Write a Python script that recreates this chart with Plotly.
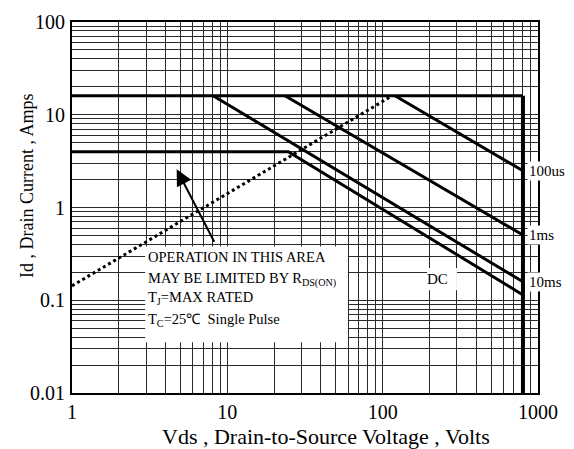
import math
import plotly.graph_objects as go

# ---- data ----
idmax_v = [1, 800]
idmax_i = [16, 16]
vdss_v = [800, 800]
vdss_i = [16, 0.01]
dc_v = [1, 24.7, 800]
dc_i = [4, 4, 0.114]
ms10_v = [8.1, 800]
ms10_i = [16, 0.158]
ms1_v = [23.5, 800]
ms1_i = [16, 0.505]
us100_v = [120, 800]
us100_i = [16, 2.49]
rds_v = [1, 115]
rds_i = [0.143, 16]

x_ticks = [1, 10, 100, 1000]
x_ticktext = ["1", "10", "100", "1000"]
y_ticks = [0.01, 0.1, 1, 10, 100]
y_ticktext = ["0.01", "0.1", "1", "10", "100"]

curve_labels = ["100us", "1ms", "10ms"]
curve_label_i = [2.49, 0.505, 0.158]

FONT = "Liberation Serif, Times New Roman, serif"

def minors(decades):
    out = []
    for d in decades:
        for k in range(2, 10):
            out.append(k * d)
    return out

fig = go.Figure()
for vx, iy, w in [(idmax_v, idmax_i, 3), (vdss_v, vdss_i, 4), (dc_v, dc_i, 3),
                  (ms10_v, ms10_i, 3), (ms1_v, ms1_i, 3), (us100_v, us100_i, 3)]:
    fig.add_trace(go.Scatter(x=vx, y=iy, mode="lines",
                             line=dict(color="black", width=w), hoverinfo="skip"))
fig.add_trace(go.Scatter(x=rds_v, y=rds_i, mode="lines",
                         line=dict(color="black", width=3, dash="dot"), hoverinfo="skip"))

grid_color = "#2a2a2a"
fig.update_xaxes(type="log", range=[0, 3], tickmode="array", tickvals=x_ticks,
                 ticktext=x_ticktext, showgrid=True, gridcolor=grid_color, gridwidth=1,
                 minor=dict(tickmode="array", tickvals=minors([1, 10, 100]), showgrid=True,
                            gridcolor=grid_color, gridwidth=1),
                 showline=True, linecolor="black", linewidth=2, mirror=True,
                 ticks="", ticklabelstandoff=0, zeroline=False, automargin=False,
                 tickfont=dict(family=FONT, size=20, color="black"))
fig.update_yaxes(type="log", range=[-2, 2], tickmode="array", tickvals=y_ticks,
                 ticktext=y_ticktext, showgrid=True, gridcolor=grid_color, gridwidth=1,
                 minor=dict(tickmode="array", tickvals=minors([0.01, 0.1, 1, 10]), showgrid=True,
                            gridcolor=grid_color, gridwidth=1),
                 showline=True, linecolor="black", linewidth=2, mirror=True,
                 ticks="", ticklabelstandoff=1, zeroline=False, automargin=False,
                 tickfont=dict(family=FONT, size=20, color="black"))

# axis titles
fig.add_annotation(text="Vds , Drain-to-Source Voltage , Volts", xref="paper", yref="paper",
                   x=0.545, y=-0.118, showarrow=False, xanchor="center", yanchor="middle",
                   font=dict(family=FONT, size=22, color="black"))
fig.add_annotation(text="Id , Drain Current , Amps", xref="paper", yref="paper",
                   x=-0.0966, y=0.558, showarrow=False, textangle=-90,
                   xanchor="center", yanchor="middle",
                   font=dict(family=FONT, size=18, color="black"))

# white note box hiding the grid
fig.add_shape(type="rect", xref="x domain", yref="y domain", x0=0.157, x1=0.592,
              y0=0.137, y1=0.395, fillcolor="white", line=dict(width=0), layer="above")
# white box behind DC label
fig.add_shape(type="rect", xref="x domain", yref="y domain", x0=0.762, x1=0.826,
              y0=0.277, y1=0.337, fillcolor="white", line=dict(width=0), layer="above")

note_lines = ["OPERATION IN THIS AREA",
              "MAY BE LIMITED BY R<sub>DS(ON)</sub>",
              "T<sub>J</sub>=MAX RATED",
              "T<sub>C</sub>=25℃  Single Pulse"]
note_y = [0.366, 0.307, 0.255, 0.197]
for t, yd in zip(note_lines, note_y):
    fig.add_annotation(text=t, xref="x domain", yref="y domain", x=0.158, y=yd,
                       xanchor="left", yanchor="middle", showarrow=False,
                       font=dict(family=FONT, size=14.5, color="black"))

fig.add_annotation(text="DC", xref="x", yref="y", x=math.log10(227), y=math.log10(0.169),
                   showarrow=False, font=dict(family=FONT, size=15, color="black"))

for t, iv in zip(curve_labels, curve_label_i):
    fig.add_annotation(text=t, xref="x", yref="y", x=math.log10(800), y=math.log10(iv),
                       xanchor="left", yanchor="middle", xshift=4, showarrow=False,
                       bgcolor="white", borderpad=1,
                       font=dict(family=FONT, size=15, color="black"))

# arrow
fig.add_annotation(x=math.log10(4.72), y=math.log10(2.58), xref="x", yref="y",
                   ax=math.log10(8.33), ay=math.log10(0.411), axref="x", ayref="y",
                   showarrow=True, arrowhead=2, arrowsize=1.6, arrowwidth=2,
                   arrowcolor="black", text="")

fig.update_layout(width=574, height=449, margin=dict(l=72, r=36, t=22, b=56),
                  paper_bgcolor="white", plot_bgcolor="white", showlegend=False)
fig.write_html("out.html", config={"displayModeBar": False},
               post_script="document.body.style.margin='0';")
